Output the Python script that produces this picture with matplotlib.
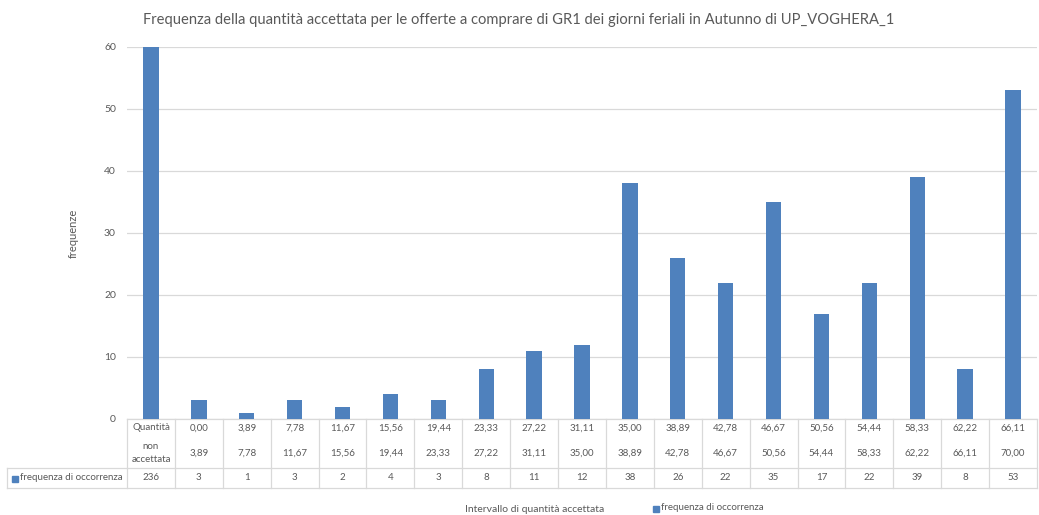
import matplotlib
matplotlib.use("Agg")
import matplotlib.pyplot as plt
from matplotlib.transforms import blended_transform_factory
from matplotlib.patches import Rectangle
from matplotlib.lines import Line2D

plt.rcParams['font.family'] = ['Lato', 'DejaVu Sans']

lower = ["Quantità", "0,00", "3,89", "7,78", "11,67", "15,56", "19,44", "23,33", "27,22",
         "31,11", "35,00", "38,89", "42,78", "46,67", "50,56", "54,44", "58,33", "62,22", "66,11"]
upper = ["non\naccettata", "3,89", "7,78", "11,67", "15,56", "19,44", "23,33", "27,22", "31,11",
         "35,00", "38,89", "42,78", "46,67", "50,56", "54,44", "58,33", "62,22", "66,11", "70,00"]
values = [236, 3, 1, 3, 2, 4, 3, 8, 11, 12, 38, 26, 22, 35, 17, 22, 39, 8, 53]
series_name = "frequenza di occorrenza"
yticks = [0, 10, 20, 30, 40, 50, 60]

W, H = 1039, 515
fig = plt.figure(figsize=(W / 100, H / 100), dpi=100)
blue = "#4f81bd"
grid = "#d9d9d9"
txt = "#595959"

x0, x1, ytop, ybot = 127, 1037, 47, 419
ax = fig.add_axes([x0 / W, (H - ybot) / H, (x1 - x0) / W, (ybot - ytop) / H])
n = len(values)
xs = list(range(n))
ax.bar(xs, values, width=0.32, color=blue, zorder=3, clip_on=True)
ax.set_xlim(-0.5, n - 0.5)
ax.set_ylim(0, 60)
ax.set_yticks(yticks)
ax.set_xticks([])
ax.tick_params(axis='y', length=0, labelsize=7.5, labelcolor=txt, pad=8)
ax.grid(axis='y', color=grid, linewidth=0.9, zorder=0)
for s in ['top', 'right', 'left']:
    ax.spines[s].set_visible(False)
ax.spines['bottom'].set_color(grid)
ax.spines['bottom'].set_linewidth(0.9)

def fy(p):
    return (H - p) / H

fig.text(73 / W, fy(233), "frequenze", rotation=90, ha='center', va='center', fontsize=8, color=txt)

tr = blended_transform_factory(ax.transData, fig.transFigure)

# table lines
line_kw = dict(color=grid, linewidth=0.9, clip_on=False)
for i in range(n + 1):
    xb = i - 0.5
    fig.add_artist(Line2D([xb, xb], [fy(419), fy(488)], transform=tr, **line_kw))
fig.add_artist(Line2D([7 / W, x1 / W], [fy(468), fy(468)], transform=fig.transFigure, **line_kw))
fig.add_artist(Line2D([7 / W, x1 / W], [fy(488), fy(488)], transform=fig.transFigure, **line_kw))
fig.add_artist(Line2D([7 / W, 7 / W], [fy(468), fy(488)], transform=fig.transFigure, **line_kw))

fs = 7
for i in xs:
    fig.text(i, fy(428), lower[i], transform=tr, ha='center', va='center', fontsize=fs, color=txt)
    if i == 0:
        fig.text(i, fy(453), upper[i], transform=tr, ha='center', va='center', fontsize=fs,
                 color=txt, linespacing=1.6)
    else:
        fig.text(i, fy(453), upper[i], transform=tr, ha='center', va='center', fontsize=fs, color=txt)
    fig.text(i, fy(478), str(values[i]), transform=tr, ha='center', va='center', fontsize=fs, color=txt)

fig.add_artist(Rectangle((12 / W, fy(481.5)), 6 / W, 6 / H, transform=fig.transFigure,
                         color=blue, clip_on=False))
fig.text(20 / W, fy(478), series_name, ha='left', va='center', fontsize=fs, color=txt)

# axis title and legend
fig.text(535 / W, fy(509), "Intervallo di quantità accettata", ha='center', va='center',
         fontsize=7.5, color=txt)
fig.add_artist(Rectangle((653 / W, fy(511.5)), 6 / W, 6 / H, transform=fig.transFigure,
                         color=blue, clip_on=False))
fig.text(661 / W, fy(508), series_name, ha='left', va='center', fontsize=7, color=txt)

fig.text(519 / W, fy(20), "Frequenza della quantità accettata per le offerte a comprare di GR1 dei giorni feriali in Autunno di UP_VOGHERA_1",
         ha='center', va='center', fontsize=10.6, color=txt)

fig.savefig("out.png", dpi=100)
